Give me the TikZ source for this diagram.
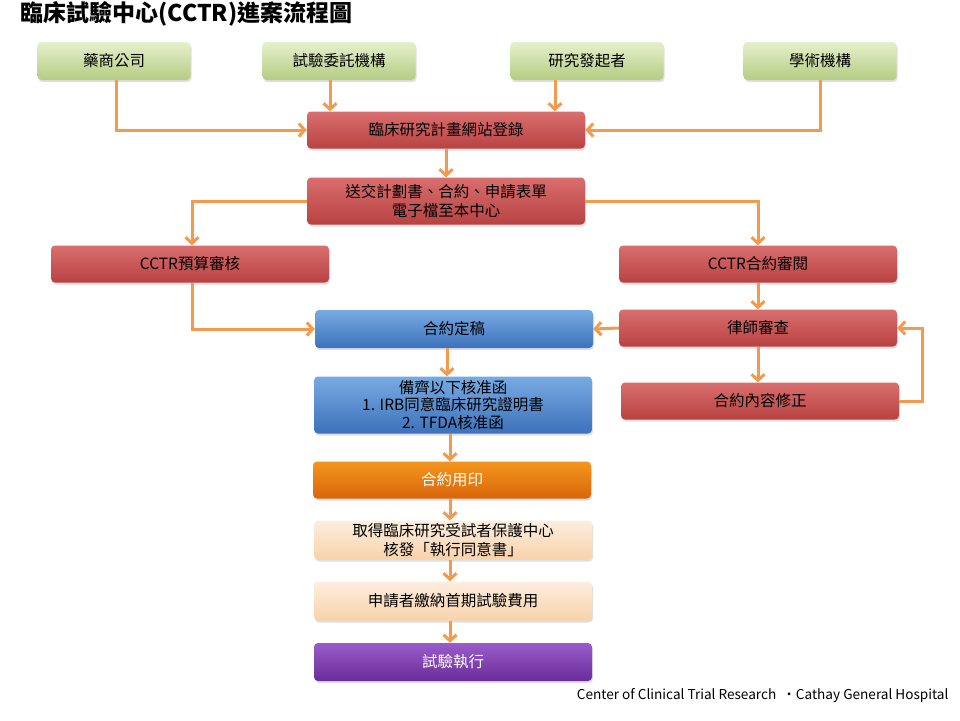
\documentclass[tikz,border=0pt]{standalone}
\usepackage{fontspec}
\setmainfont{Noto Sans CJK TC}
\usetikzlibrary{arrows.meta,shadows,calc}
\definecolor{arr}{HTML}{F39A4E}
\definecolor{gtop}{HTML}{E6F0CC}
\definecolor{gbot}{HTML}{B4CC82}
\definecolor{rtop}{HTML}{DA6E6E}
\definecolor{rbot}{HTML}{B84242}
\definecolor{btop}{HTML}{78AAE2}
\definecolor{bbot}{HTML}{3C72BC}
\definecolor{otop}{HTML}{F5961E}
\definecolor{obot}{HTML}{D8660A}
\definecolor{ptop}{HTML}{FDEEDF}
\definecolor{pbot}{HTML}{F8D2AA}
\definecolor{vtop}{HTML}{9A5CCB}
\definecolor{vbot}{HTML}{6A2C98}
\tikzset{
  base/.style={rounded corners=4pt, align=center, inner sep=2pt,
    font=\fontsize{15.5}{18}\selectfont, text=black,
    drop shadow={opacity=0.25, shadow xshift=1pt, shadow yshift=-2pt}},
  gbox/.style={base, top color=gtop, bottom color=gbot, minimum width=153pt, minimum height=38pt},
  rbox/.style={base, top color=rtop, bottom color=rbot, minimum width=278pt, minimum height=37pt},
  bbox/.style={base, top color=btop, bottom color=bbot, minimum width=278pt, minimum height=38pt},
  obox/.style={base, top color=otop, bottom color=obot, minimum width=278pt, minimum height=37pt, text=white},
  pbox/.style={base, top color=ptop, bottom color=pbot, minimum width=278pt, minimum height=39pt},
  vbox/.style={base, top color=vtop, bottom color=vbot, minimum width=278pt, minimum height=38pt, text=white},
  conn/.style={draw=arr, line width=3pt, -{Straight Barb[length=6pt,width=13pt,line width=3pt]}}
}
\begin{document}
\begin{tikzpicture}[x=1pt,y=-1pt]
\useasboundingbox (0,0) rectangle (960,720);
\fill[white] (0,0) rectangle (960,720);
\node[anchor=west, font=\fontsize{23}{26}\selectfont\bfseries] (title) at (17,14) {臨床試驗中心(CCTR)進案流程圖};
\node[gbox] (a1) at (114,61) {藥商公司};
\node[gbox] (a2) at (339,61) {試驗委託機構};
\node[gbox] (a3) at (587,61) {研究發起者};
\node[gbox] (a4) at (820,61) {學術機構};
\node[rbox] (reg) at (446,130) {臨床研究計畫網站登錄};
\node[rbox, minimum height=47pt, font=\fontsize{15.5}{19}\selectfont] (send) at (446,201) {送交計劃書、合約、申請表單\\電子檔至本中心};
\node[rbox] (bud) at (190,264) {CCTR預算審核};
\node[rbox] (rev) at (758,264) {CCTR合約審閱};
\node[bbox] (fin) at (454,329) {合約定稿};
\node[rbox] (law) at (758,328) {律師審查};
\node[rbox] (mod) at (760,401) {合約內容修正};
\node[bbox, minimum height=57pt, font=\fontsize{15.5}{17.5}\selectfont] (irb) at (453,405) {備齊以下核准函\\1. IRB同意臨床研究證明書\\2. TFDA核准函};
\node[obox] (seal) at (452,480) {合約用印};
\node[pbox, font=\fontsize{15.5}{19}\selectfont] (get) at (453,540) {取得臨床研究受試者保護中心\\核發「執行同意書」};
\node[pbox] (pay) at (453,601) {申請者繳納首期試驗費用};
\node[vbox] (run) at (453,662) {試驗執行};
\node[anchor=east, font=\fontsize{13.6}{15}\selectfont] (foot) at (952,696) {Center of Clinical Trial Research \ ·Cathay General Hospital};
% connectors
\draw[conn] ($(a1.south)+(2,0)$) |- (reg.west);
\draw[conn] (a2.south -| 330,0) -- (reg.north -| 330,0);
\draw[conn] (a3.south -| 555,0) -- (reg.north -| 555,0);
\draw[conn] (a4.south) |- (reg.east);
\draw[conn] (reg) -- (send);
\draw[conn] (send.west) -| ($(bud.north)+(2,0)$);
\draw[conn] (send.east) -| (rev.north);
\draw[conn] ($(bud.south)+(2,0)$) |- (fin.west);
\draw[conn] (rev) -- (law);
\draw[conn] (law.west) -- (fin.east);
\draw[conn] (law.south) -- (mod.north -| law.south);
\draw[conn] (mod.east) -- ++(23,0) |- (law.east);
\draw[conn] (fin.south -| 447,0) -- (irb.north -| 447,0);
\draw[conn] (irb.south -| 450,0) -- (seal.north -| 450,0);
\draw[conn] (seal.south -| 450,0) -- (get.north -| 450,0);
\draw[conn] (get.south -| 450,0) -- (pay.north -| 450,0);
\draw[conn] (pay.south -| 450,0) -- (run.north -| 450,0);
\end{tikzpicture}
\end{document}
